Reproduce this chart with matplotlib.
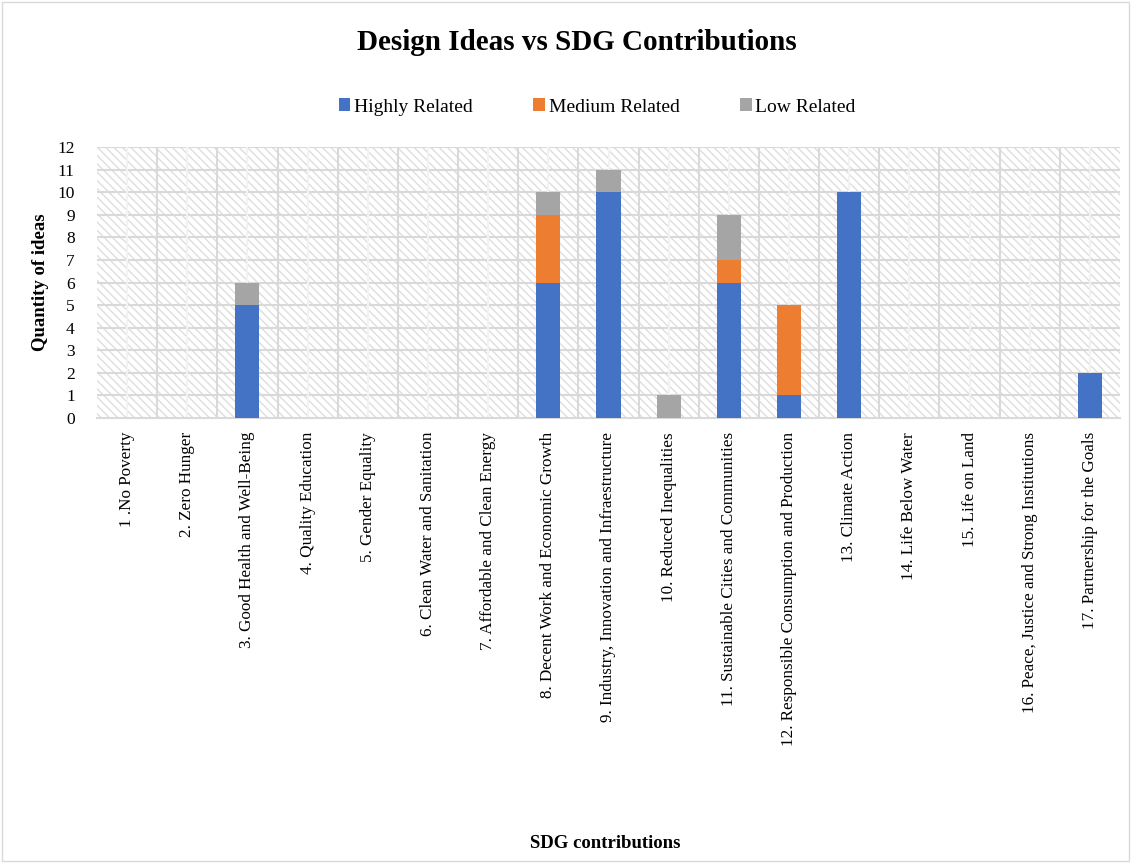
import numpy as np
import matplotlib
matplotlib.use("Agg")
from matplotlib import pyplot as plt, patches

plt.rcParams['font.family'] = ['Liberation Serif', 'DejaVu Serif']
plt.rcParams['hatch.linewidth'] = 1.0

categories = [
    "1 .No Poverty", "2. Zero Hunger", "3. Good Health and Well-Being",
    "4. Quality Education", "5. Gender Equality", "6. Clean Water and Sanitation",
    "7. Affordable and Clean Energy", "8. Decent Work and Economic Growth",
    "9. Industry, Innovation and Infraestructure", "10. Reduced Inequalities",
    "11. Sustainable Cities and Communities",
    "12. Responsible Consumption and Production", "13. Climate Action",
    "14. Life Below Water", "15. Life on Land",
    "16. Peace, Justice and Strong Institutions", "17. Partnership for the Goals",
]
highly = [0, 0, 5, 0, 0, 0, 0, 6, 10, 0, 6, 1, 10, 0, 0, 0, 2]
medium = [0, 0, 0, 0, 0, 0, 0, 3, 0, 0, 1, 4, 0, 0, 0, 0, 0]
low = [0, 0, 1, 0, 0, 0, 0, 1, 1, 1, 2, 0, 0, 0, 0, 0, 0]

fig = plt.figure(figsize=(11.31, 8.63), dpi=100)
ax = fig.add_axes([97 / 1131, 1 - 418 / 863, (1120 - 97) / 1131, (418 - 147) / 863])

# Rahmen um die ganze Grafik
fig.add_artist(patches.Rectangle((0.002, 0.002), 0.996, 0.996, transform=fig.transFigure,
                                 fill=False, edgecolor='#d9d9d9', lw=1))

# Schraffierter Hintergrund
ax.add_patch(patches.Rectangle((0, 0), 1, 1, transform=ax.transAxes, facecolor='white',
                               hatch='\\\\\\\\', edgecolor='#dedede', lw=0, zorder=0))

x = np.arange(len(categories))
h = np.array(highly)
m = np.array(medium)
l = np.array(low)
w = 0.4
ax.bar(x, h, w, color='#4472c4', label='Highly Related', zorder=3)
ax.bar(x, m, w, bottom=h, color='#ed7d31', label='Medium Related', zorder=3)
ax.bar(x, l, w, bottom=h + m, color='#a5a5a5', label='Low Related', zorder=3)

ax.set_xlim(-0.5, len(categories) - 0.5)
ax.set_ylim(0, 12)
ax.set_yticks(range(13))
ax.set_xticks(x)
ax.set_xticklabels(categories, rotation=90, fontsize=12.3)
ax.tick_params(axis='y', labelsize=12.5, length=0, pad=16)
ax.tick_params(axis='x', length=0, pad=10)

for yv in range(1, 13):
    ax.axhline(yv, color='#d9d9d9', lw=1.5, zorder=1)
for xv in np.arange(0.5, len(categories) - 0.5, 1):
    ax.axvline(xv, color='#d9d9d9', lw=1.5, zorder=1)
for xv in x:
    ax.axvline(xv, color='#f2f2f2', lw=1.5, zorder=1)

for s in ['top', 'right', 'left']:
    ax.spines[s].set_visible(False)
ax.spines['bottom'].set_color('#d9d9d9')
ax.spines['bottom'].set_linewidth(1.5)

ax.set_ylabel('Quantity of ideas', fontsize=13.5, fontweight='bold', labelpad=6)
fig.text(0.5355, 1 - 843 / 863, 'SDG contributions', ha='center', va='center',
         fontsize=13.5, fontweight='bold')
fig.text(0.510, 1 - 42 / 863, 'Design Ideas vs SDG Contributions', ha='center', va='center',
         fontsize=21, fontweight='bold')

fig.legend(loc='center', bbox_to_anchor=(0.528, 1 - 107 / 863), ncol=3, frameon=False,
           fontsize=14, handlelength=0.6, handleheight=0.6, handletextpad=0.2,
           columnspacing=3.1)

fig.savefig('out.png', dpi=100)
